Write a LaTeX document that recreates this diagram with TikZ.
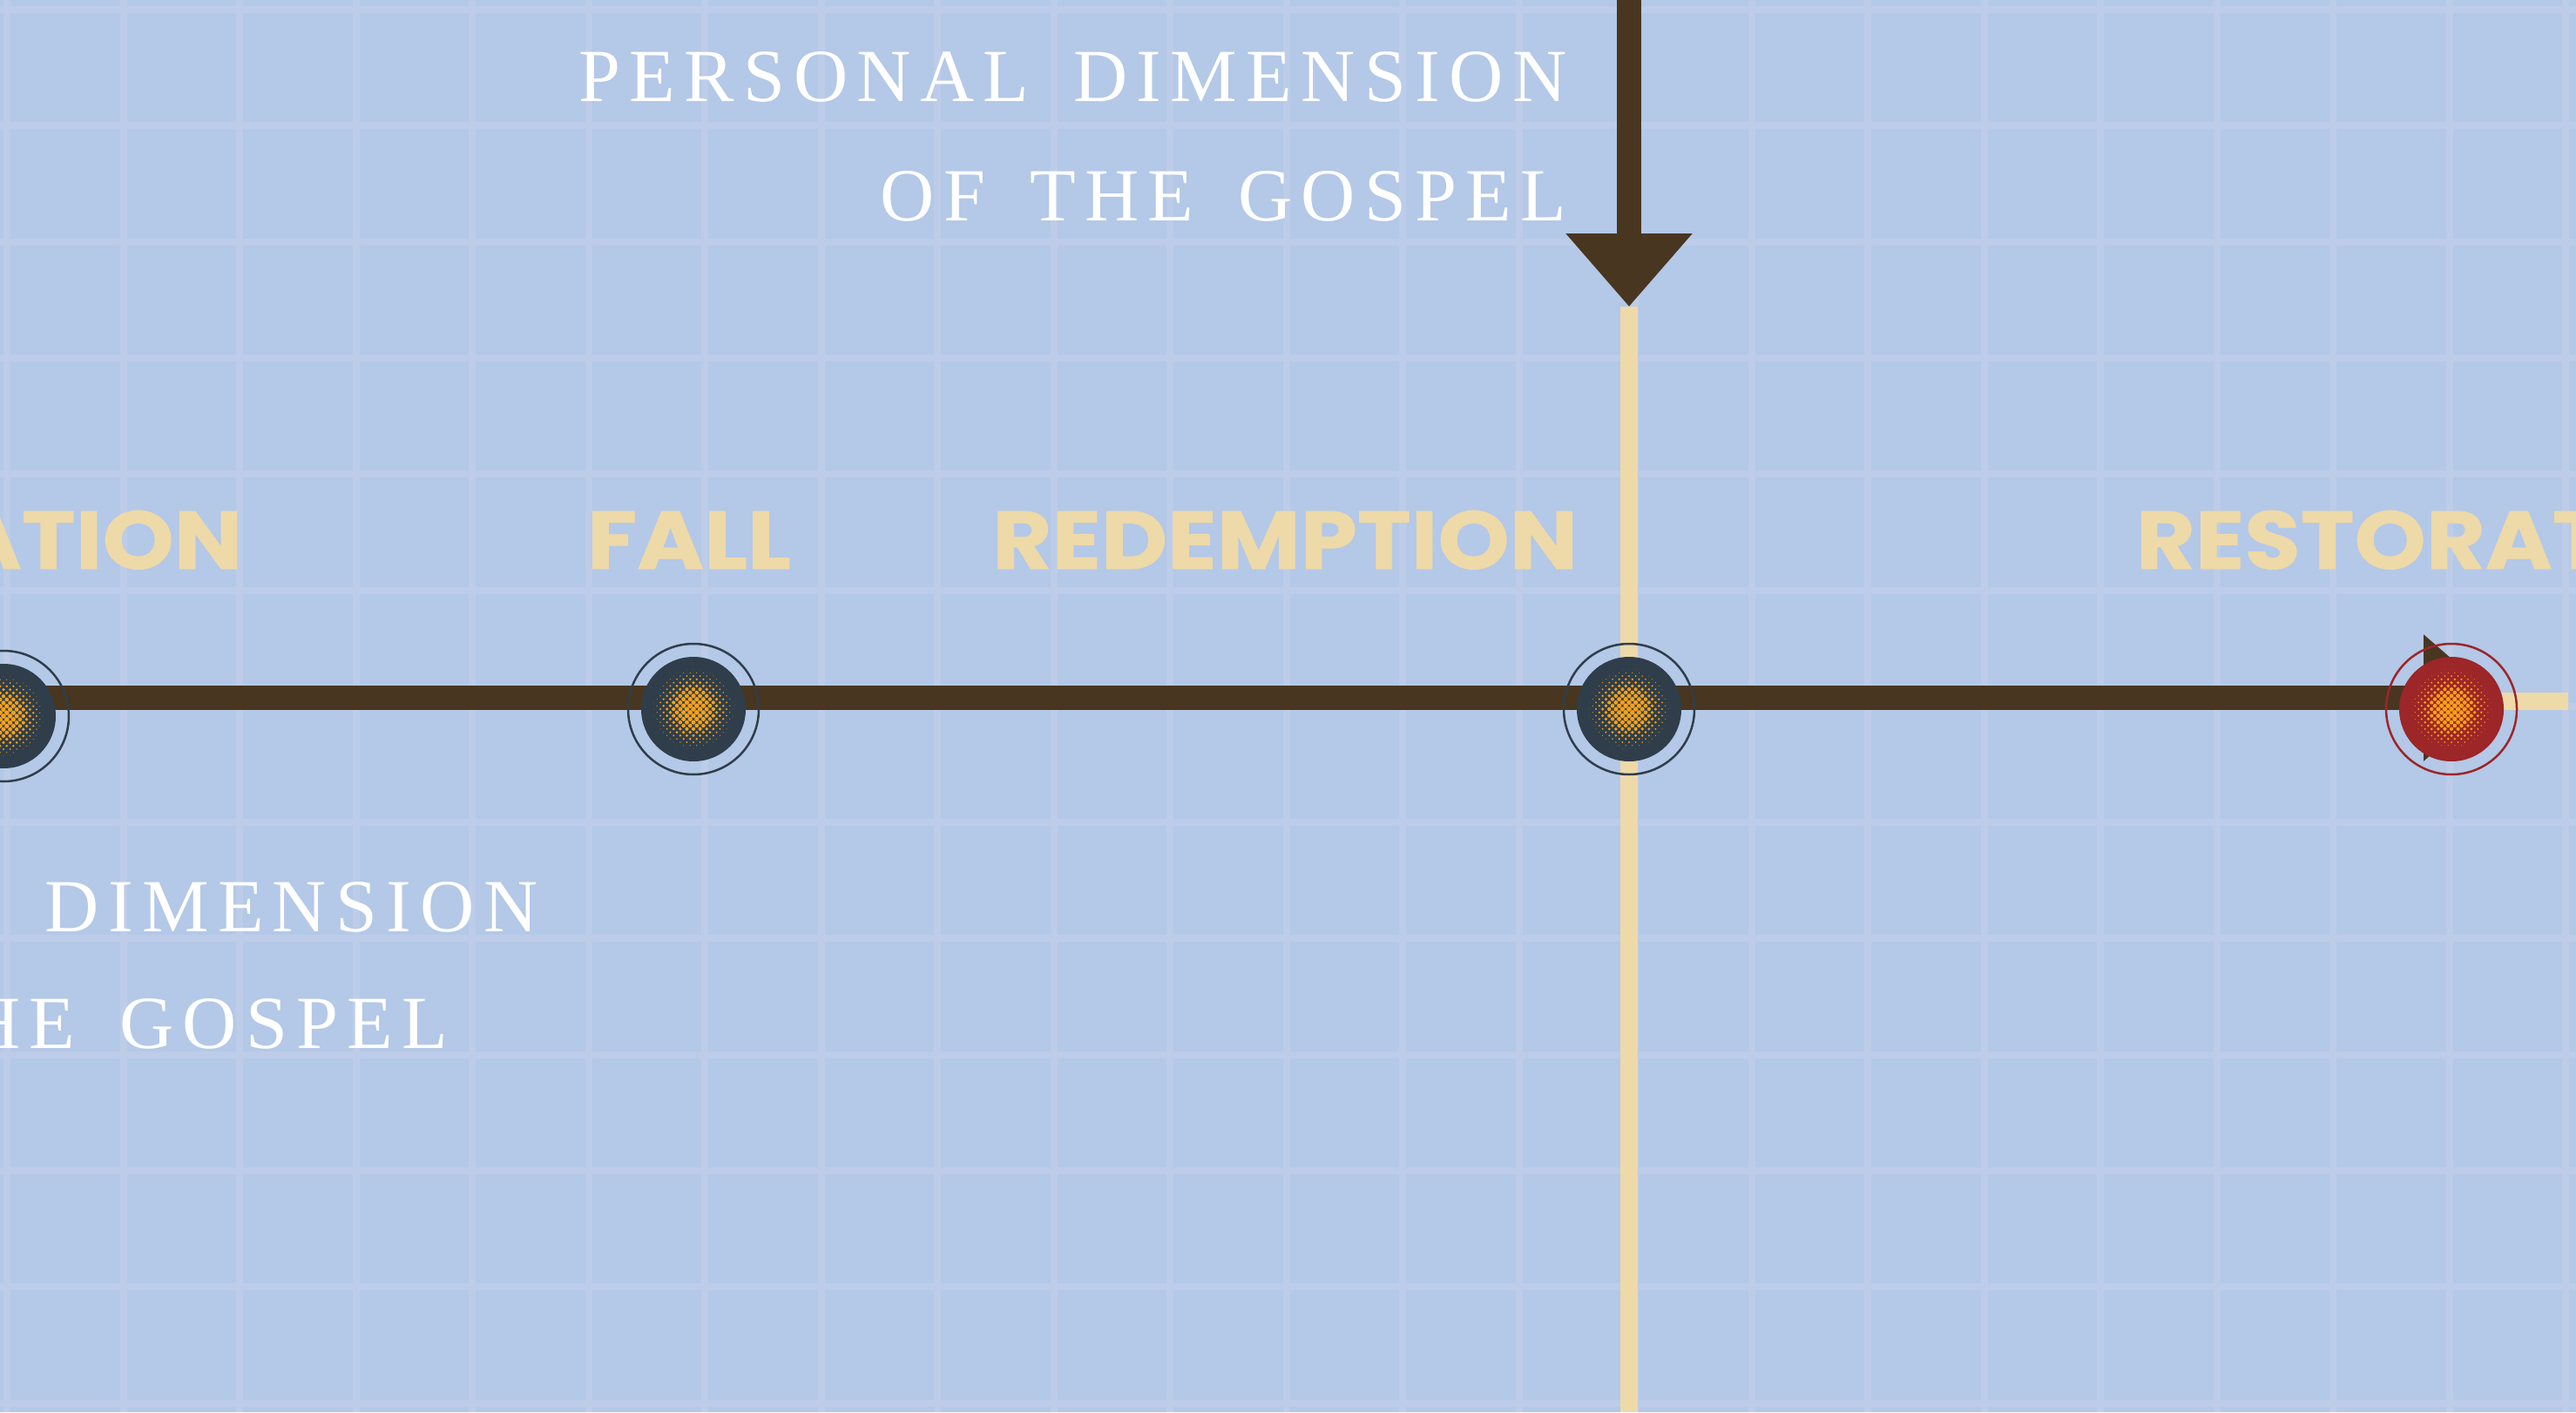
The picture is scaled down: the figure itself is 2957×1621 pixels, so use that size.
\documentclass[tikz,border=0pt]{standalone}
\usepackage{fontspec}
\usetikzlibrary{arrows.meta}
\newfontfamily\dimfont{Liberation Serif}[LetterSpace=12,WordSpace=1.6]
\newfontfamily\stagefont{Poppins}[FakeStretch=1.11,FakeBold=0.8]
\definecolor{paper}{RGB}{180,200,231}
\definecolor{gridlight}{RGB}{189,204,232}
\definecolor{barbrown}{RGB}{72,54,33}
\definecolor{cream}{RGB}{238,217,168}
\definecolor{dotdark}{RGB}{47,62,74}
\definecolor{dotred}{RGB}{156,38,40}
\definecolor{dotorange}{RGB}{247,161,26}
% halftone spot on a stage dot
\newcommand\halftonedots[1]{%
  \begin{scope}[shift={(#1.center)}]
  \foreach \a in {-9,...,9} \foreach \b in {-9,...,9} {
    \pgfmathsetmacro\hd{3.8*sqrt(2*(\a*\a+\b*\b))}
    \pgfmathsetmacro\hr{2.8*(1-(\hd/48)^2)}
    \ifdim\hr pt>0.15pt
      \fill[dotorange] (3.8*\a+3.8*\b,3.8*\a-3.8*\b) circle (\hr*0.1mm);
    \fi
  }
  \end{scope}}
\begin{document}
\begin{tikzpicture}[x=0.1mm,y=-0.1mm,
  gridline/.style={draw=gridlight,line width=0.8mm},
  barline/.style={draw=barbrown,line width=2.8mm,-{Triangle[width=14mm,length=8.4mm]}},
  creamline/.style={draw=cream,line width=2mm},
  stagedot/.style={circle,fill=dotdark,minimum size=12mm,inner sep=0pt},
  stagering/.style={draw=dotdark,line width=0.25mm},
  stagelabel/.style={text=cream,inner sep=0pt,
    font=\stagefont\bfseries\fontsize{26.8pt}{30pt}\selectfont},
  dimlabel/.style={text=white,inner sep=0pt,
    font=\dimfont\fontsize{24.5pt}{28pt}\selectfont}]
\useasboundingbox (0,0) rectangle (2957,1621);
\clip (0,0) rectangle (2957,1621);
\fill[paper] (0,0) rectangle (2957,1621);

% Grid
\foreach \k in {0,...,22}
  \draw[gridline] (8+133.5*\k,0) -- (8+133.5*\k,1621);
\foreach \k in {0,...,12}
  \draw[gridline] (0,11+133.3*\k) -- (2957,11+133.3*\k);

% Fixed points
\coordinate (arrowtop) at (1870,0);
\coordinate (arrowtip) at (1870,352);
\coordinate (crossbottom) at (1870,1621);
\coordinate (barstart) at (0,801);
\coordinate (barend) at (2866,801);
\coordinate (tailstart) at (2814,805);
\coordinate (tailend) at (2948,805);

% Cream lines
\draw[creamline] (arrowtip) -- (crossbottom);
\draw[creamline] (tailstart) -- (tailend);

% Brown arrows
\draw[barline] (arrowtop) -- (arrowtip);
\draw[barline] (barstart) -- (barend);

% Stage dots
\node[stagedot] (creation) at (4,822) {};
\node[stagedot] (fall) at (796,814) {};
\node[stagedot] (redemption) at (1870,814) {};
\node[stagedot,fill=dotred] (restoration) at (2814,814) {};
\draw[stagering] (creation) circle (7.5mm);
\draw[stagering] (fall) circle (7.5mm);
\draw[stagering] (redemption) circle (7.5mm);
\draw[stagering,draw=dotred] (restoration) circle (7.5mm);
\halftonedots{creation}
\halftonedots{fall}
\halftonedots{redemption}
\halftonedots{restoration}

% Stage labels
\node[stagelabel,anchor=base east] (creationlabel) at (279,653) {ATION};
\node[stagelabel,anchor=base] (falllabel) at (791,653) {FALL};
\node[stagelabel,anchor=base east] (redemptionlabel) at (1812,653) {REDEMPTION};
\node[stagelabel,anchor=base west] (restorationlabel) at (2451,653) {RESTORAT};

% Dimension labels
\node[dimlabel,anchor=base east] (personal) at (1799,117) {PERSONAL DIMENSION};
\node[dimlabel,anchor=base east] (personalgospel) at (1799,253) {OF THE GOSPEL};
\node[dimlabel,anchor=base west] (otherdim) at (51,1069) {DIMENSION};
\node[dimlabel,anchor=base east] (othergospel) at (515,1203) {HE GOSPEL};
\end{tikzpicture}
\end{document}
